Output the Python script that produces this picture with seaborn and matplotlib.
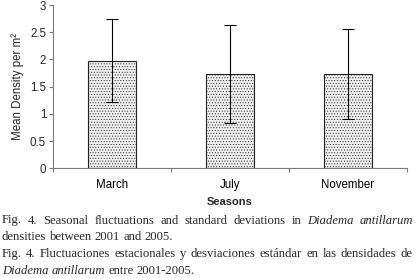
import matplotlib
matplotlib.use("Agg")
import matplotlib.pyplot as plt
import numpy as np
import pandas as pd
import seaborn as sns

seasons = ["March", "July", "November"]
mean_density = [1.98, 1.73, 1.73]
sd_density = [0.77, 0.90, 0.82]
yticks = [0, 0.5, 1, 1.5, 2, 2.5, 3]

caption_lines = [
    ("Fig. 4. Seasonal fluctuations and standard deviations in *Diadema *antillarum", True),
    ("densities between 2001 and 2005.", False),
    ("Fig. 4. Fluctuaciones estacionales y desviaciones estándar en las densidades de", True),
    ("*Diadema *antillarum entre 2001-2005.", False),
]

W, H, DPI = 416, 278, 100
AXIS_GRAY = "#7a7a7a"

sns.set_theme(style="ticks")
plt.rcParams["font.family"] = ["Liberation Sans", "DejaVu Sans"]
plt.rcParams["hatch.linewidth"] = 0.4

fig = plt.figure(figsize=(W / DPI, H / DPI), dpi=DPI)
ax = fig.add_axes([53 / W, 1 - 168.3 / H, (407 - 53) / W, (168.3 - 5) / H])

df = pd.DataFrame({"season": seasons, "density": mean_density, "sd": sd_density})
sns.barplot(
    df,
    x="season",
    y="density",
    order=seasons,
    color="#efefef",
    width=0.41,
    errorbar=None,
    edgecolor="#222222",
    linewidth=0.8,
    ax=ax,
)
for patch in ax.patches:
    patch.set_facecolor("#f0f0f0")
    patch.set_hatch("......")
    if hasattr(patch, "set_hatchcolor"):
        patch.set_hatchcolor("#cfcfcf")

ax.errorbar(
    np.arange(len(seasons)),
    df["density"],
    yerr=df["sd"],
    fmt="none",
    ecolor="black",
    elinewidth=0.8,
    capsize=4.5,
    capthick=0.8,
)

ax.set_xlim(-0.5, len(seasons) - 0.5)
ax.set_ylim(0, 3)
ax.set_yticks(yticks)
ax.set_yticklabels([f"{t:g}" for t in yticks])
ax.set_xticks(np.arange(len(seasons)))
ax.set_xticks(np.arange(len(seasons) + 1) - 0.5, minor=True)
ax.tick_params(axis="x", which="major", length=0, pad=8, labelsize=8.3, colors="black")
ax.tick_params(axis="x", which="minor", length=3, width=0.8, color=AXIS_GRAY, direction="out")
ax.tick_params(axis="y", length=3, width=0.8, color=AXIS_GRAY, pad=2, labelsize=8.3)
ax.set_ylabel("Mean Density per m²", fontsize=8.3, labelpad=4)
ax.set_xlabel("Seasons", fontsize=8, fontweight="bold", labelpad=4)
ax.spines[["right", "top"]].set_visible(False)
for side in ["left", "bottom"]:
    ax.spines[side].set_color(AXIS_GRAY)
    ax.spines[side].set_linewidth(0.8)

# caption, justified like the printed figure legend
fig.canvas.draw()
renderer = fig.canvas.get_renderer()
left_px, right_px = 2, 413
baselines = [223.5, 240.5, 257.3, 273.5]
cap_kw = dict(family=["Liberation Serif", "DejaVu Serif"], fontsize=9.1, va="baseline", ha="left")


def _width(text, style):
    t = fig.text(0, 0, text, style=style, **cap_kw)
    w = t.get_window_extent(renderer).width
    t.remove()
    return w


space_w = _width("a a", "normal") - _width("aa", "normal")
for (line, justify), base in zip(caption_lines, baselines):
    items = []
    for w in line.split(" "):
        style = "italic" if w.startswith("*") else "normal"
        items.append((w.lstrip("*"), style))
    widths = [_width(w, s) for w, s in items]
    if justify and len(items) > 1:
        gap = (right_px - left_px - sum(widths)) / (len(items) - 1)
    else:
        gap = space_w
    x = left_px
    for (w, s), wd in zip(items, widths):
        fig.text(x / W, 1 - base / H, w, style=s, **cap_kw)
        x += wd + gap

fig.savefig("out.png", dpi=DPI)
